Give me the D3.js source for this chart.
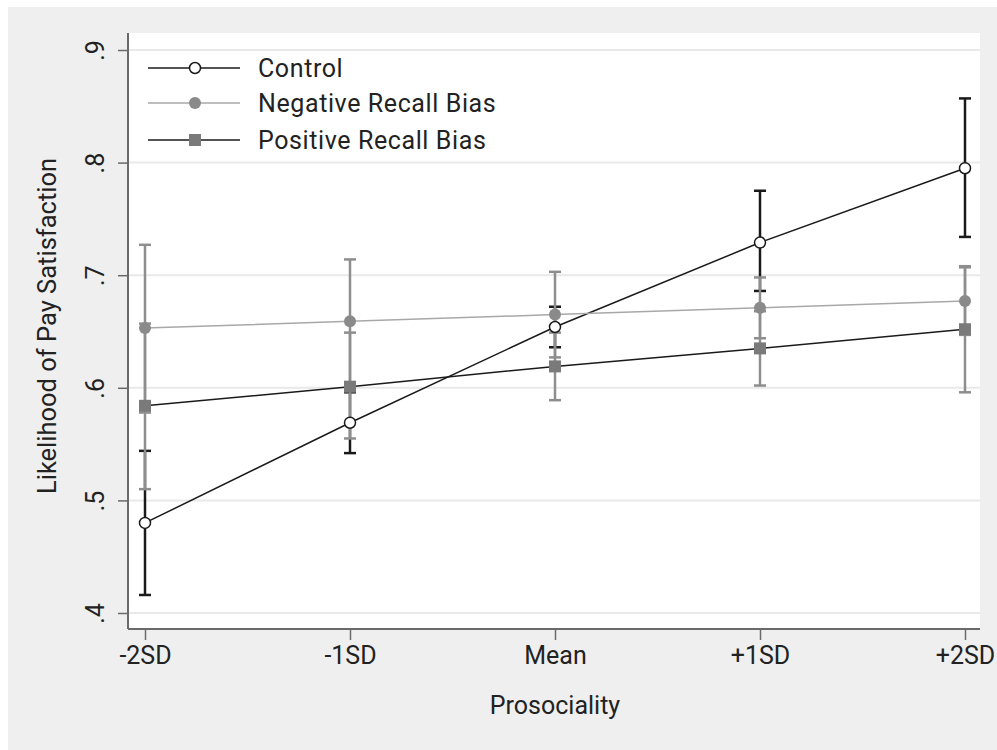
<!DOCTYPE html>
<html>
<head>
<meta charset="utf-8">
<script src="https://cdn.jsdelivr.net/npm/d3@7"></script>
<style>
  body { margin: 0; background: #fff; }
  text { font-family: Roboto, "Liberation Sans", sans-serif; fill: #222; }
</style>
</head>
<body>
<svg id="chart" width="997" height="750"></svg>
<script>
// data
const categories = ['-2SD', '-1SD', 'Mean', '+1SD', '+2SD'];
const yTicks = [0.4, 0.5, 0.6, 0.7, 0.8, 0.9];

const controlVals = [0.480, 0.569, 0.654, 0.729, 0.795];
const controlLo   = [0.416, 0.542, 0.636, 0.686, 0.734];
const controlHi   = [0.544, 0.596, 0.672, 0.775, 0.857];

const negativeVals = [0.653, 0.659, 0.665, 0.671, 0.677];
const negativeLo   = [0.578, 0.604, 0.627, 0.644, 0.647];
const negativeHi   = [0.727, 0.714, 0.703, 0.698, 0.707];

const positiveVals = [0.584, 0.601, 0.619, 0.635, 0.652];
const positiveLo   = [0.510, 0.555, 0.589, 0.602, 0.596];
const positiveHi   = [0.657, 0.649, 0.649, 0.668, 0.708];

const seriesNames = ['Control', 'Negative Recall Bias', 'Positive Recall Bias'];

const svg = d3.select('#chart');

// outer panel
svg.append('rect').attr('x', 8).attr('y', 7).attr('width', 989).attr('height', 743).attr('fill', '#efefef');

const plot = {left: 128, right: 980, top: 33, bottom: 629};
svg.append('rect')
  .attr('x', plot.left).attr('y', plot.top)
  .attr('width', plot.right - plot.left).attr('height', plot.bottom - plot.top)
  .attr('fill', '#fff');

const x = d3.scalePoint().domain(categories).range([145, 965]);
const y = d3.scaleLinear().domain([0.4, 0.9]).range([613, 50]);

// gridlines
svg.append('g').selectAll('line')
  .data(yTicks)
  .enter().append('line')
    .attr('x1', plot.left).attr('x2', plot.right)
    .attr('y1', d => y(d)).attr('y2', d => y(d))
    .attr('stroke', '#e9e9e9').attr('stroke-width', 2);

// axes
const yAxis = svg.append('g')
  .attr('transform', `translate(${plot.left},0)`)
  .call(d3.axisLeft(y).tickValues(yTicks).tickSize(10).tickFormat(d => d3.format('.1f')(d).replace(/^0/, '')));
yAxis.select('.domain').attr('d', `M0,${plot.top}V${plot.bottom}`).attr('stroke', '#6a6a6a').attr('stroke-width', 2);
yAxis.selectAll('.tick line').attr('stroke', '#6a6a6a').attr('stroke-width', 1.5);
yAxis.selectAll('.tick text')
  .attr('x', 0).attr('dy', null)
  .attr('transform', 'translate(-24,0) rotate(-90)')
  .attr('text-anchor', 'middle')
  .style('font-size', '25px');

const xAxis = svg.append('g')
  .attr('transform', `translate(0,${plot.bottom})`)
  .call(d3.axisBottom(x).tickSize(11).tickPadding(6));
xAxis.select('.domain').attr('d', `M${plot.left},0H${plot.right}`).attr('stroke', '#6a6a6a').attr('stroke-width', 2);
xAxis.selectAll('.tick line').attr('stroke', '#6a6a6a').attr('stroke-width', 1.5);
xAxis.selectAll('.tick text').style('font-size', '25px');

svg.append('text')
  .attr('x', (plot.left + plot.right) / 2 + 1).attr('y', 714)
  .attr('text-anchor', 'middle')
  .style('font-size', '25px')
  .text('Prosociality');

svg.append('text')
  .attr('transform', 'translate(56,326) rotate(-90)')
  .attr('text-anchor', 'middle')
  .style('font-size', '25.5px')
  .text('Likelihood of Pay Satisfaction');

// error bars
function errorBars(lo, hi, color, width) {
  const g = svg.append('g').attr('stroke', color).attr('stroke-width', width);
  g.selectAll('line.v').data(categories).enter().append('line')
    .attr('x1', d => x(d)).attr('x2', d => x(d))
    .attr('y1', (d, i) => y(lo[i])).attr('y2', (d, i) => y(hi[i]));
  g.selectAll('line.lo').data(categories).enter().append('line')
    .attr('x1', d => x(d) - 6).attr('x2', d => x(d) + 6)
    .attr('y1', (d, i) => y(lo[i])).attr('y2', (d, i) => y(lo[i]));
  g.selectAll('line.hi').data(categories).enter().append('line')
    .attr('x1', d => x(d) - 6).attr('x2', d => x(d) + 6)
    .attr('y1', (d, i) => y(hi[i])).attr('y2', (d, i) => y(hi[i]));
}
errorBars(controlLo, controlHi, '#1a1a1a', 2.5);
errorBars(negativeLo, negativeHi, '#8e8e8e', 2.5);
errorBars(positiveLo, positiveHi, '#8e8e8e', 2.5);

const line = d3.line().x((d, i) => x(categories[i])).y(d => y(d));

svg.append('path').datum(controlVals).attr('d', line)
  .attr('fill', 'none').attr('stroke', '#1a1a1a').attr('stroke-width', 1.5);
svg.append('path').datum(negativeVals).attr('d', line)
  .attr('fill', 'none').attr('stroke', '#a8a8a8').attr('stroke-width', 1.5);
svg.append('path').datum(positiveVals).attr('d', line)
  .attr('fill', 'none').attr('stroke', '#1a1a1a').attr('stroke-width', 1.5);

// markers
svg.append('g').selectAll('circle').data(negativeVals).enter().append('circle')
  .attr('cx', (d, i) => x(categories[i])).attr('cy', d => y(d)).attr('r', 6)
  .attr('fill', '#8a8a8a');
svg.append('g').selectAll('rect').data(positiveVals).enter().append('rect')
  .attr('x', (d, i) => x(categories[i]) - 6).attr('y', d => y(d) - 6)
  .attr('width', 12).attr('height', 12)
  .attr('fill', '#7a7a7a');
svg.append('g').selectAll('circle').data(controlVals).enter().append('circle')
  .attr('cx', (d, i) => x(categories[i])).attr('cy', d => y(d)).attr('r', 5.5)
  .attr('fill', '#fff').attr('stroke', '#1a1a1a').attr('stroke-width', 1.5);

// legend
const legendRows = [68, 103, 140];
const legendLine = ['#1a1a1a', '#a8a8a8', '#1a1a1a'];
const legend = svg.append('g');
seriesNames.forEach((name, i) => {
  const ly = legendRows[i];
  legend.append('line').attr('x1', 148).attr('x2', 240).attr('y1', ly).attr('y2', ly)
    .attr('stroke', legendLine[i]).attr('stroke-width', 1.5);
  if (i === 0) {
    legend.append('circle').attr('cx', 195).attr('cy', ly).attr('r', 5.5)
      .attr('fill', '#fff').attr('stroke', '#1a1a1a').attr('stroke-width', 1.5);
  } else if (i === 1) {
    legend.append('circle').attr('cx', 195).attr('cy', ly).attr('r', 6).attr('fill', '#8a8a8a');
  } else {
    legend.append('rect').attr('x', 189).attr('y', ly - 6).attr('width', 12).attr('height', 12).attr('fill', '#7a7a7a');
  }
  legend.append('text').attr('x', 258).attr('y', ly).attr('dy', '0.35em')
    .style('font-size', '25px').style('letter-spacing', '0.6px').text(name);
});
</script>
</body>
</html>
